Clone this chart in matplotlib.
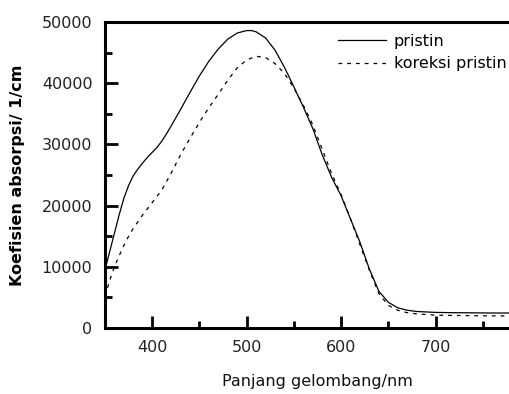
import matplotlib
matplotlib.use("Agg")
import matplotlib.pyplot as plt
from matplotlib.ticker import MultipleLocator, FixedLocator

plt.rcParams['font.family'] = ['DejaVu Sans']

# wavelength (nm) and absorption coefficient (1/cm)
wl_pristin = [350, 355, 360, 365, 370, 375, 380, 385, 390, 395, 400, 405, 410,
              415, 420, 430, 440, 450, 460, 470, 480, 490, 500, 505, 510, 520,
              530, 540, 550, 560, 570, 580, 590, 600, 610, 620, 630, 640, 650,
              660, 670, 680, 700, 720, 760, 800]
abs_pristin = [9500, 12500, 15500, 18500, 21200, 23300, 24900, 26000, 27000,
               27900, 28700, 29500, 30500, 31700, 33000, 35700, 38500, 41200,
               43600, 45600, 47200, 48200, 48600, 48600, 48400, 47400, 45400,
               42600, 39400, 36100, 32600, 28300, 24600, 21600, 17800, 14000,
               9600, 6000, 4200, 3300, 2900, 2700, 2550, 2500, 2450, 2450]

wl_koreksi = [350, 355, 360, 365, 370, 375, 380, 390, 400, 410, 420, 430, 440,
              450, 460, 470, 480, 490, 500, 510, 520, 530, 540, 550, 560, 570,
              580, 590, 600, 610, 620, 630, 640, 650, 660, 670, 680, 700, 740,
              800]
abs_koreksi = [5200, 7800, 10000, 11800, 13500, 15000, 16300, 18500, 20500,
               22500, 25300, 28300, 31000, 33600, 36000, 38200, 40500, 42500,
               43800, 44400, 44200, 43200, 41600, 39200, 36400, 33200, 29200,
               25200, 21800, 17800, 13600, 9400, 5600, 3700, 2900, 2500, 2300,
               2100, 2000, 1950]

x_ticks = [400, 500, 600, 700]

fig = plt.figure(figsize=(5.1, 3.94), dpi=100)
ax = fig.add_axes([105 / 510, 1 - 328 / 394, (530 - 105) / 510, (328 - 22) / 394])

ax.plot(wl_pristin, abs_pristin, color='black', lw=0.9, label='pristin')
ax.plot(wl_koreksi, abs_koreksi, color='black', lw=0.9, dashes=(3, 4),
        label='koreksi pristin')

ax.set_xlim(350, 800)
ax.set_ylim(0, 50000)
ax.xaxis.set_major_locator(FixedLocator(x_ticks))
ax.xaxis.set_minor_locator(MultipleLocator(50))
ax.yaxis.set_major_locator(MultipleLocator(10000))
ax.yaxis.set_minor_locator(MultipleLocator(5000))

for side in ['left', 'bottom', 'top']:
    ax.spines[side].set_linewidth(2.2)
ax.spines['right'].set_visible(False)

ax.tick_params(which='major', direction='in', length=9, width=2,
               labelsize=11.5, pad=9, labelcolor='#222222')
ax.tick_params(which='minor', direction='in', length=5, width=2)
ax.tick_params(top=False, right=False, which='both')

ax.set_xlabel('Panjang gelombang/nm', fontsize=11.5, labelpad=13,
              color='#111111')
ax.set_ylabel('Koefisien absorpsi/ 1/cm', fontsize=11.5, fontweight='bold',
              labelpad=12)

ax.legend(loc='upper left', bbox_to_anchor=(338 / 510, 1 - 34 / 394),
          bbox_transform=fig.transFigure, frameon=False, fontsize=11.5,
          handlelength=3.0, handletextpad=0.5, labelspacing=0.45,
          borderaxespad=0, borderpad=0)

fig.savefig('out.png', dpi=100)
